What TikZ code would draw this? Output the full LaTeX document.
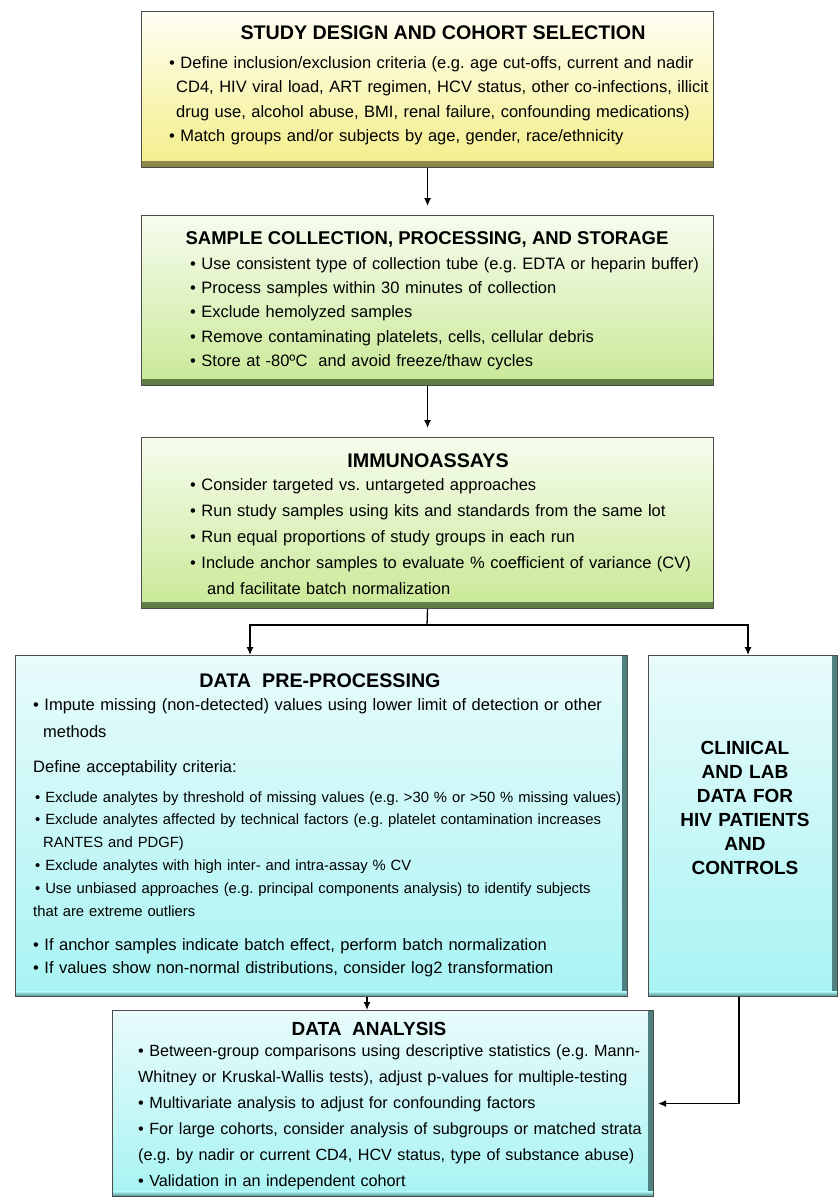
\documentclass[tikz,border=0pt]{standalone}
\usepackage{fontspec}
\setmainfont{Liberation Sans}
\usetikzlibrary{arrows.meta,calc}
\frenchspacing

\definecolor{ytop}{HTML}{FFFFF4}
\definecolor{ybot}{HTML}{F3EE88}
\definecolor{yband}{HTML}{8A8648}
\definecolor{gtop}{HTML}{F6FCEE}
\definecolor{gbot}{HTML}{C9E996}
\definecolor{gband}{HTML}{5F7B44}
\definecolor{ctop}{HTML}{E9FBFB}
\definecolor{cbot}{HTML}{A8F3F3}
\definecolor{cband}{HTML}{4E7E7F}

\newcommand{\bul}{\textbullet\ }

\tikzset{
  box/.style={draw=black!70, line width=1.1pt, inner sep=0pt, anchor=north west},
  ybox/.style={box, top color=ytop, bottom color=ybot,
    path picture={\shade[top color=ybot, bottom color=yband] ([yshift=6pt]path picture bounding box.south west) rectangle (path picture bounding box.south east);}},
  gbox/.style={box, top color=gtop, bottom color=gbot,
    path picture={\shade[top color=gbot, bottom color=gband] ([yshift=6pt]path picture bounding box.south west) rectangle (path picture bounding box.south east);}},
  cbox/.style={box, top color=ctop, bottom color=cbot,
    path picture={\shade[left color=cbot, right color=cband] ([xshift=-5pt]path picture bounding box.north east) rectangle (path picture bounding box.south east);
                  \shade[top color=cbot, bottom color=cband] ([yshift=5pt]path picture bounding box.south west) rectangle (path picture bounding box.south east);}},
  head/.style={font=\fontsize{19.7}{24}\selectfont\bfseries, inner sep=0pt, anchor=base},
  body/.style={font=\fontsize{16.5}{24.4}\selectfont, inner sep=0pt, anchor=base west, text width=640pt, align=left},
  link/.style={line width=1.3pt},
  arr/.style={link, -{Latex[length=8pt,width=7pt]}}
}

\begin{document}
\begin{tikzpicture}[x=1pt,y=-1pt]
  \useasboundingbox (0,0) rectangle (838,1199);

  % Study design
  \node[ybox, minimum width=572pt, minimum height=156pt] (study) at (141,11) {};
  \node[head] (studyT) at (443,40) {STUDY DESIGN AND COHORT SELECTION};
  \node[body] (studyL) at (169,68.5) {\bul Define inclusion/exclusion criteria (e.g. age cut-offs, current and nadir\\
    \hspace*{7pt}CD4, HIV viral load, ART regimen, HCV status, other co-infections, illicit\\
    \hspace*{7pt}drug use, alcohol abuse, BMI, renal failure, confounding medications)\\
    \bul Match groups and/or subjects by age, gender, race/ethnicity};

  % Sample collection
  \node[gbox, minimum width=572pt, minimum height=170pt] (sample) at (141,215) {};
  \node[head, font=\fontsize{18.5}{24}\selectfont\bfseries] (sampleT) at (427,244) {SAMPLE COLLECTION, PROCESSING, AND STORAGE};
  \node[body, font=\fontsize{16.5}{24.2}\selectfont] (sampleL) at (190,269.5) {\bul Use consistent type of collection tube (e.g. EDTA or heparin buffer)\\
    \bul Process samples within 30 minutes of collection\\
    \bul Exclude hemolyzed samples\\
    \bul Remove contaminating platelets, cells, cellular debris\\
    \bul Store at -80ºC\ \ and avoid freeze/thaw cycles};

  % Immunoassays
  \node[gbox, minimum width=572pt, minimum height=171pt] (immuno) at (141,437) {};
  \node[head] (immunoT) at (428,467) {IMMUNOASSAYS};
  \node[body, font=\fontsize{16.5}{26}\selectfont] (immunoL) at (190,490.5) {\bul Consider targeted vs. untargeted approaches\\
    \bul Run study samples using kits and standards from the same lot\\
    \bul Run equal proportions of study groups in each run\\
    \bul Include anchor samples to evaluate \% coefficient of variance (CV)\\
    \hspace*{17pt}and facilitate batch normalization};

  % Data pre-processing
  \node[cbox, minimum width=612pt, minimum height=341pt] (prepro) at (15,655) {};
  \node[head] (preproT) at (320,687) {DATA\ \ PRE-PROCESSING};
  \node[body, font=\fontsize{16.5}{27}\selectfont] (preproA) at (33,710.5) {\bul Impute missing (non-detected) values using lower limit of detection or other\\
    \hspace*{10pt}methods\\[8pt]
    Define acceptability criteria:};
  \node[body, font=\fontsize{14.8}{22.8}\selectfont] (preproB) at (35,802) {\bul Exclude analytes by threshold of missing values (e.g. >30 \% or >50 \% missing values)\\
    \bul Exclude analytes affected by technical factors (e.g. platelet contamination increases\\
    \hspace*{8pt}RANTES and PDGF)\\
    \bul Exclude analytes with high inter- and intra-assay \% CV\\
    \bul Use unbiased approaches (e.g. principal components analysis) to identify subjects\\
    \hspace*{-2pt}that are extreme outliers};
  \node[body, font=\fontsize{16.5}{23}\selectfont] (preproC) at (33,950.5) {\bul If anchor samples indicate batch effect, perform batch normalization\\
    \bul If values show non-normal distributions, consider log2 transformation};

  % Clinical data
  \node[cbox, minimum width=189pt, minimum height=341pt] (clinical) at (648,655) {};
  \node[head, text width=185pt, align=center, font=\fontsize{19}{24}\selectfont\bfseries] (clinicalT) at (745,754) {CLINICAL\\AND LAB\\DATA FOR\\HIV PATIENTS\\AND\\CONTROLS};

  % Data analysis
  \node[cbox, minimum width=541pt, minimum height=186pt] (analysis) at (112,1010) {};
  \node[head, font=\fontsize{19}{24}\selectfont\bfseries] (analysisT) at (369,1035) {DATA\ \ ANALYSIS};
  \node[body, font=\fontsize{16.2}{26}\selectfont] (analysisL) at (138,1056) {\bul Between-group comparisons using descriptive statistics (e.g. Mann-\\
    Whitney or Kruskal-Wallis tests), adjust p-values for multiple-testing\\
    \bul Multivariate analysis to adjust for confounding factors\\
    \bul For large cohorts, consider analysis of subgroups or matched strata\\
    (e.g. by nadir or current CD4, HCV status, type of substance abuse)\\
    \bul Validation in an independent cohort};

  % Connectors
  \draw[arr, shorten >=9pt] (study.south) -- (study.south |- sample.north);
  \draw[arr, shorten >=9pt] (sample.south) -- (sample.south |- immuno.north);
  \coordinate (fork) at (427,625);
  \draw[link] (immuno.south) -- (fork);
  \draw[arr] (fork) -| ($(prepro.north west)+(235,0)$);
  \draw[arr] (fork) -| ([xshift=5pt]clinical.north);
  \coordinate (preproOut) at ($(prepro.south west)+(352,0)$);
  \draw[arr] (preproOut) -- (preproOut |- analysis.north);
  \draw[arr, shorten >=4pt] ([xshift=-4pt]clinical.south) |- (analysis.east);
\end{tikzpicture}
\end{document}
